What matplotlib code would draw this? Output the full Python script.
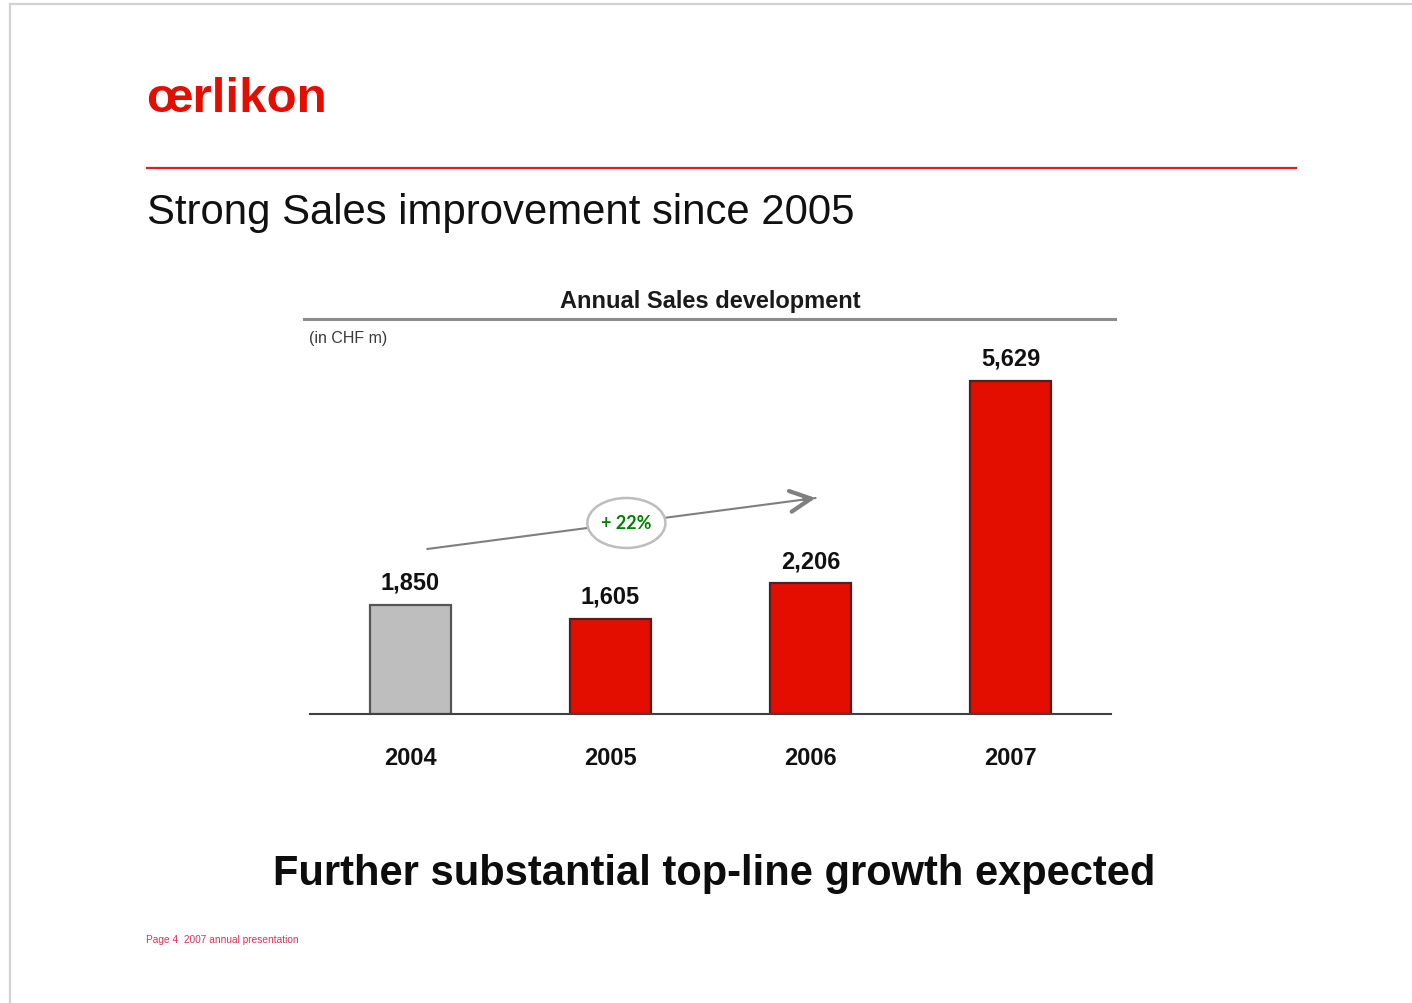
import matplotlib
matplotlib.use("Agg")
import matplotlib.pyplot as plt
from matplotlib.lines import Line2D
from matplotlib.patches import Ellipse

# Annual sales, CHF m
years = ["2004", "2005", "2006", "2007"]
sales = [1850, 1605, 2206, 5629]
bar_colors = ["#bebebe", "#e30d00", "#e30d00", "#e30d00"]
edge_colors = ["#555555", "#5a1c1c", "#5a1c1c", "#5a1c1c"]
growth_label = "+ 22%"

W, H = 1412, 1004
fig = plt.figure(figsize=(W / 100, H / 100), dpi=100)
fig.patch.set_facecolor("white")
plt.rcParams["font.family"] = ["Liberation Sans", "DejaVu Sans"]


def fx(px):
    return px / W


def fy(py):
    return 1 - py / H


# slide frame
fig.add_artist(Line2D([fx(10), fx(10)], [fy(5), fy(1004)], color="#d2d2d2", lw=1.6))
fig.add_artist(Line2D([fx(10), fx(1412)], [fy(5), fy(5)], color="#d2d2d2", lw=1.6))

# header
fig.text(fx(146), fy(112), "œrlikon", color="#e30d00", fontsize=35.5,
         fontweight="heavy", ha="left", va="baseline")
fig.add_artist(Line2D([fx(147), fx(1296)], [fy(169), fy(169)], color="#e31b1b", lw=1.6))
fig.text(fx(147), fy(224), "Strong Sales improvement since 2005", color="#111111",
         fontsize=30.2, ha="left", va="baseline")

# chart heading
fig.text(fx(710), fy(308), "Annual Sales development", color="#1a1a1a",
         fontsize=17, fontweight="bold", ha="center", va="baseline")
fig.add_artist(Line2D([fx(304), fx(1115)], [fy(320), fy(320)], color="#8c8c8c", lw=2.2))
fig.text(fx(309), fy(339), "(in CHF m)", color="#3a3a3a", fontsize=11.5,
         ha="left", va="center")

# bar chart
ax = fig.add_axes([fx(310), fy(715), fx(1111) - fx(310), fy(320) - fy(715)])
ax.set_xlim(-0.5, 3.5)
ax.set_ylim(0, 6677)
x = list(range(len(years)))
ax.bar(x, sales, width=0.405, color=bar_colors, edgecolor=edge_colors,
       linewidth=1.6, zorder=2)
for xi, v in zip(x, sales):
    ax.annotate(f"{v:,}", (xi, v), xytext=(0, 16.5), textcoords="offset points",
                ha="center", va="center", fontsize=17, fontweight="bold",
                color="#111111")

ax.set_xticks(x)
ax.set_xticklabels(years, fontsize=17, fontweight="bold", color="#111111")
ax.tick_params(axis="x", length=0, pad=23)
ax.set_yticks([])
for s in ["left", "right", "top"]:
    ax.spines[s].set_visible(False)
ax.spines["bottom"].set_color("#404040")
ax.spines["bottom"].set_linewidth(1.5)
ax.patch.set_alpha(0)

# growth arrow 2005 -> 2006: thin shaft, heavier open head
start = (0.085, 2789)
end = (2.025, 3651)
ax.annotate("", xy=end, xytext=start,
            arrowprops=dict(arrowstyle="-", color="#7f7f7f", lw=1.5,
                            shrinkA=0, shrinkB=0),
            annotation_clip=False, zorder=3)
head_from = (start[0] + 0.97 * (end[0] - start[0]),
             start[1] + 0.97 * (end[1] - start[1]))
ax.annotate("", xy=end, xytext=head_from,
            arrowprops=dict(arrowstyle="->,head_length=1.5,head_width=0.75",
                            color="#808080", lw=3.0, shrinkA=0, shrinkB=0,
                            joinstyle="round", capstyle="round"),
            annotation_clip=False, zorder=3)
ax.add_patch(Ellipse((1.08, 3229), 0.39, 845, facecolor="white",
                     edgecolor="#bdbdbd", lw=1.8, zorder=4, clip_on=False))
ax.text(1.08, 3229, growth_label, color="#008000", fontsize=13,
        fontweight="bold", family=["Lato", "DejaVu Sans"],
        ha="center", va="center", zorder=5)

# takeaway and footer
fig.text(fx(714), fy(874), "Further substantial top-line growth expected",
         color="#0d0d0d", fontsize=30, fontweight="bold", ha="center", va="center")
fig.text(fx(146), fy(940), "Page 4  2007 annual presentation", color="#e0305a",
         fontsize=7.3, ha="left", va="center")

fig.savefig("out.png", dpi=100)
